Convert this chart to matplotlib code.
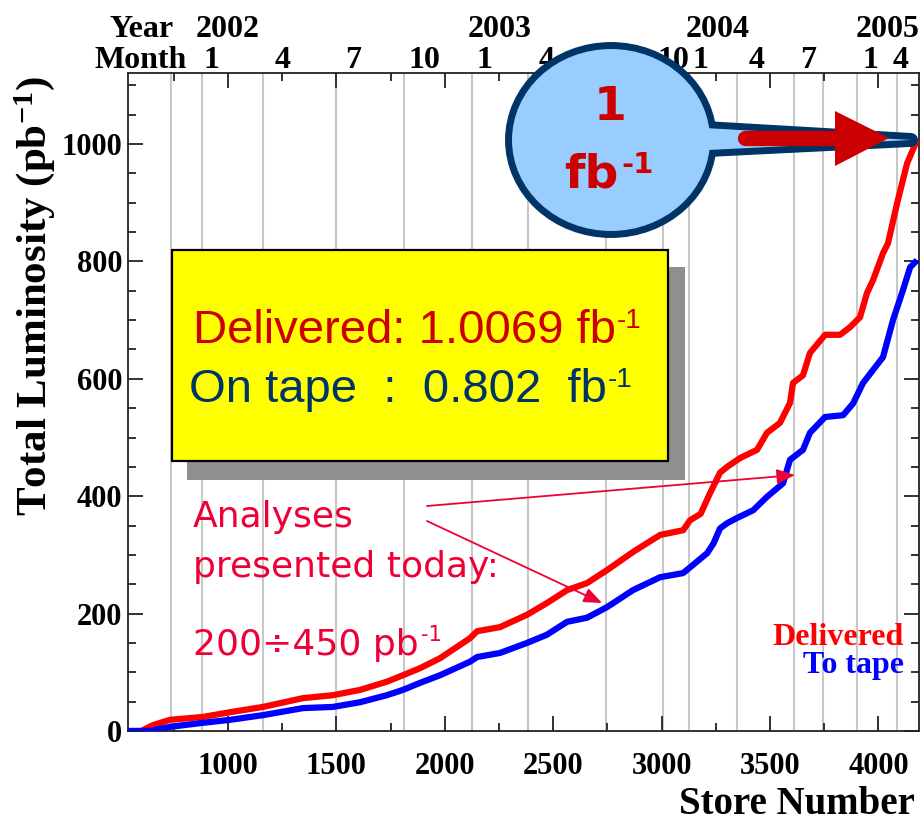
import matplotlib
matplotlib.use("Agg")
import matplotlib.pyplot as plt
from matplotlib.patches import Ellipse, Polygon, Rectangle
from matplotlib.lines import Line2D
from matplotlib.transforms import IdentityTransform, blended_transform_factory

# ---------------- data ----------------
total_delivered_fb = 1.0069   # fb^-1
total_tape_fb = 0.802         # fb^-1

store_delivered = [540, 600, 654, 732, 885, 1009, 1161, 1346, 1484, 1609, 1733, 1807,
                   1886, 1978, 2116, 2149, 2255, 2379, 2471, 2564, 2656, 2748, 2868,
                   2993, 3099, 3131, 3180, 3223, 3269, 3302, 3362, 3440, 3486, 3546,
                   3592, 3606, 3652, 3684, 3754, 3823, 3869, 3915, 3947, 3975, 4021,
                   4044, 4086, 4132, 4178]
lumi_delivered = [0, 0, 10, 19, 24, 32, 41, 56, 61, 70, 84, 95,
                  107, 124, 158, 170, 177, 198, 218, 240, 252, 274, 305,
                  334, 342, 359, 370, 405, 440, 450, 465, 479, 508, 525,
                  559, 593, 606, 644, 675, 675, 688, 705, 746, 768, 814,
                  831, 899, 967, total_delivered_fb * 1000]

store_tape = [540, 640, 732, 885, 1009, 1161, 1346, 1484, 1609, 1733, 1807, 1886,
              1978, 2116, 2149, 2255, 2379, 2471, 2564, 2656, 2748, 2868, 2993,
              3099, 3145, 3210, 3240, 3269, 3302, 3348, 3422, 3486, 3560, 3592,
              3652, 3684, 3754, 3837, 3883, 3929, 3975, 4021, 4067, 4113, 4146, 4178]
lumi_tape = [0, 0, 7, 14, 19, 27, 39, 41, 49, 61, 70, 82,
             95, 118, 126, 133, 150, 164, 186, 193, 211, 240, 262,
             269, 283, 303, 320, 345, 354, 363, 376, 399, 422, 462,
             479, 508, 535, 538, 558, 593, 615, 637, 700, 751, 790, total_tape_fb * 1000]

# store numbers of the vertical reference lines
period_lines = [737, 880, 1161, 1498, 1812, 2125, 2384, 2744, 3006, 3126, 3348,
                3611, 3744, 3901, 4086]

# calendar axis on top
month_labels = ["1", "4", "7", "10", "1", "4", "7", "10", "1", "4", "7", "1", "4"]
month_stores = [926, 1254, 1577, 1904, 2181, 2471, 2753, 3055, 3177, 3440, 3675, 3961, 4104]
year_labels = ["2002", "2003", "2004", "2005"]
year_stores = [1000, 2255, 3260, 4044]

x_major = [1000, 1500, 2000, 2500, 3000, 3500, 4000]

# ---------------- figure ----------------
W, H = 924, 823
plt.rcParams["font.family"] = ["Liberation Serif", "DejaVu Serif"]
plt.rcParams["font.weight"] = "bold"
plt.rcParams["mathtext.fontset"] = "custom"
plt.rcParams["mathtext.rm"] = "Liberation Serif:bold"
plt.rcParams["mathtext.bf"] = "Liberation Serif:bold"
plt.rcParams["mathtext.default"] = "rm"

fig = plt.figure(figsize=(W / 100, H / 100), dpi=100)
fig.patch.set_facecolor("white")
ax = fig.add_axes([128 / W, 1 - 731 / H, (919 - 128) / W, (731 - 73) / H])
ax.set_xlim(539, 4187)
ax.set_ylim(0, 1121)


def fx(px):
    return px / W


def fy(py):
    return 1 - py / H


def P(x, y):
    # figure pixel (origin top-left) -> display coords
    return (x, H - y)


for s in period_lines:
    ax.axvline(s, color="#c8c8c8", lw=1.5, zorder=1)

ax.plot(store_delivered, lumi_delivered, color="#ff0000", lw=4.5, zorder=3,
        solid_joinstyle="round", solid_capstyle="butt")
ax.plot(store_tape, lumi_tape, color="#0000ff", lw=4.5, zorder=3,
        solid_joinstyle="round", solid_capstyle="butt")

ax.set_xticks(x_major)
ax.set_xticks(list(range(750, 4187, 250)), minor=True)
ax.set_yticks(list(range(0, 1001, 200)))
ax.set_yticks(list(range(0, 1101, 50)), minor=True)
ax.tick_params(which="both", direction="in", top=True, right=True, width=1.3, color="#222222")
ax.tick_params(which="major", length=11)
ax.tick_params(which="minor", length=6)
ax.tick_params(axis="x", which="major", pad=15, labelsize=22)
ax.tick_params(axis="y", which="major", pad=4, labelsize=22)
for sp in ax.spines.values():
    sp.set_linewidth(1.3)
    sp.set_color("#222222")

# calendar labels above the frame
top_tr = blended_transform_factory(ax.transData, fig.transFigure)
for s, lab in zip(month_stores, month_labels):
    ax.text(s, fy(68), lab, transform=top_tr, ha="center", va="baseline",
            fontsize=23, clip_on=False)
for s, lab in zip(year_stores, year_labels):
    ax.text(s, fy(37), lab, transform=top_tr, ha="center", va="baseline",
            fontsize=23, clip_on=False)
fig.text(fx(142), fy(37), "Year", ha="center", va="baseline", fontsize=23)
fig.text(fx(141), fy(68), "Month", ha="center", va="baseline", fontsize=23)

# axis titles
fig.text(fx(35), fy(76), r"Total Luminosity (pb$^{-1}$)", rotation=90,
         ha="center", va="top", fontsize=31)
fig.text(fx(915), fy(804), "Store Number", ha="right", va="center", fontsize=28)

# legend
fig.text(fx(904), fy(645), "Delivered", color="#ff0000", ha="right", va="baseline", fontsize=23)
fig.text(fx(904), fy(673), "To tape", color="#0000ff", ha="right", va="baseline", fontsize=23)

renderer = fig.canvas.get_renderer()


def text_with_sup(x_px, base_px, text, sup, size, sup_size, rise, gap=1, **kw):
    """Base text on a baseline at pixel row base_px, superscript raised by rise pixels."""
    base = fig.text(fx(x_px), fy(base_px), text, ha="left", va="baseline",
                    fontsize=size, **kw)
    bb = base.get_window_extent(renderer)
    fig.text((bb.x1 + gap) / W, fy(base_px - rise), sup, ha="left", va="baseline",
             fontsize=sup_size, **kw)
    return base


ID = IdentityTransform()

# summary box with drop shadow
shadow = Rectangle(P(187, 480), 685 - 187, 480 - 267, transform=ID,
                   facecolor="#8f8f8f", edgecolor="none", zorder=10)
box = Rectangle(P(172, 461), 668 - 172, 461 - 250, transform=ID,
                facecolor="#ffff00", edgecolor="black", lw=1.6, zorder=11)
fig.add_artist(shadow)
fig.add_artist(box)

sans = ["Liberation Sans", "DejaVu Sans"]
text_with_sup(193, 343, f"Delivered: {total_delivered_fb:.4f} fb", "-1", 34, 20, 15,
              color="#cc0000", family=sans, weight="normal", zorder=12)
text_with_sup(189, 402, f"On tape  :  {total_tape_fb:.3f}  fb", "-1", 34, 20, 15,
              color="#003366", family=sans, weight="normal", zorder=12)

# analyses annotation
ann_color = "#ee0036"
verd = ["DejaVu Sans"]
fig.text(fx(193), fy(527), "Analyses", color=ann_color, family=verd, weight="normal",
         fontsize=26, va="baseline")
fig.text(fx(193), fy(577), "presented today:", color=ann_color, family=verd, weight="normal",
         fontsize=26, va="baseline")
text_with_sup(193, 655, "200÷450 pb", "-1", 26, 15, 14, gap=2,
              color=ann_color, family=verd, weight="normal")

arrow_kw = dict(arrowstyle="-|>,head_length=1.1,head_width=0.45", color=ann_color, lw=1.3,
                shrinkA=0, shrinkB=0)
ax.annotate("", xy=P(795, 475), xycoords="figure pixels", xytext=P(427, 506),
            textcoords="figure pixels", arrowprops=arrow_kw, annotation_clip=False, zorder=6)
ax.annotate("", xy=P(602, 603), xycoords="figure pixels", xytext=P(427, 521),
            textcoords="figure pixels", arrowprops=arrow_kw, annotation_clip=False, zorder=6)

# callout bubble pointing at the final delivered value
tip_x, tip_y = ax.transData.transform((store_delivered[-1], lumi_delivered[-1]))
navy = "#003366"
bubble_fill = "#99ccff"
ell_c = P(611, 140)
ell_w, ell_h = 198, 182
tail = [P(688, 127), (tip_x - 6, tip_y), P(688, 151)]
fig.add_artist(Ellipse(ell_c, ell_w, ell_h, transform=ID, facecolor=navy,
                       edgecolor=navy, lw=10, zorder=20))
fig.add_artist(Polygon(tail, closed=True, transform=ID, facecolor=navy, edgecolor=navy,
                       lw=10, joinstyle="round", zorder=20))
fig.add_artist(Ellipse(ell_c, ell_w, ell_h, transform=ID, facecolor=bubble_fill,
                       edgecolor="none", zorder=21))
fig.add_artist(Polygon(tail, closed=True, transform=ID, facecolor=bubble_fill,
                       edgecolor="none", zorder=21))

arrow_red = "#cc0000"
fig.add_artist(Line2D([745, 840], [H - 138, H - 138], transform=ID, color=arrow_red,
                      lw=11, solid_capstyle="round", zorder=22))
fig.add_artist(Polygon([P(835, 111), P(835, 166), (tip_x - 28, H - 138)], closed=True,
                       transform=ID, facecolor=arrow_red, edgecolor="none", zorder=22))

bold_sans = dict(color=arrow_red, family=["DejaVu Sans"], weight="bold", zorder=23)
fig.text(fx(610), fy(107), "1", fontsize=34, ha="center", va="center", **bold_sans)
text_with_sup(564, 188, "fb", "-1", 34, 21, 15, gap=3, **bold_sans)

fig.savefig("out.png", dpi=100)
